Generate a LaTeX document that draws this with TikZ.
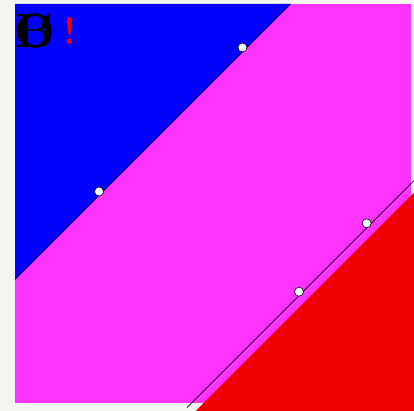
\documentclass[tikz,border=0pt]{standalone}
\usepackage{tikz}
\definecolor{bgc}{HTML}{F5F5F0}
\definecolor{pinkc}{HTML}{FF33FF}
\definecolor{bluec}{HTML}{0000FF}
\definecolor{redc}{HTML}{EE0000}
\tikzset{
  pt/.style={circle,draw=black,fill=white,line width=0.6pt,inner sep=0pt,minimum size=9pt},
  bline/.style={draw=black,line width=0.7pt},
  lab/.style={font=\fontsize{48}{48}\selectfont\bfseries,text=black,inner sep=0pt},
}
\begin{document}
\begin{tikzpicture}[x=1pt,y=-1pt]
\useasboundingbox (0,0) rectangle (414,411);
\fill[bgc] (0,0) rectangle (414,411);
\fill[pinkc] (15,4) rectangle (411,403);
\fill[bluec] (15,4) -- (290.5,4) -- (15,279.5) -- cycle;
\fill[redc] (195.5,411) -- (414,192.5) -- (414,411) -- cycle;
\coordinate (a1) at (290.5,4);
\coordinate (a2) at (15,279.5);
\coordinate (b1) at (187,407.5);
\coordinate (b2) at (414,180.5);
\draw[bline] (a1) -- (a2);
\draw[bline] (b1) -- (b2);
\node[pt] (p1) at (242.5,47.5) {};
\node[pt] (p2) at (99,191.5) {};
\node[pt] (p3) at (366.7,223.3) {};
\node[pt] (p4) at (299,291.7) {};
\node[lab] (t1) at (34.5,31) {B};
\node[lab] (t2) at (34.5,31) {C};
\node[lab] (t3) at (34.5,31) {O};
\node[font=\fontsize{38}{38}\selectfont\bfseries,text=redc,inner sep=0pt] (t4) at (70,31) {!};
\end{tikzpicture}
\end{document}
